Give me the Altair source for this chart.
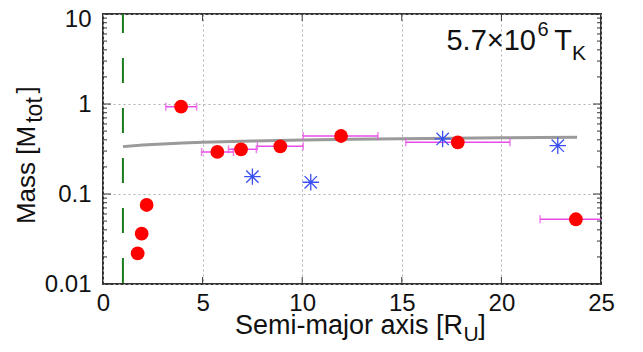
import altair as alt
import pandas as pd

# ---- data ----
circ_x = [1.74, 1.94, 2.19, 3.92, 5.74, 6.93, 8.90, 11.95, 17.81, 23.74]
circ_y = [0.0219, 0.0362, 0.0755, 0.933, 0.293, 0.314, 0.339, 0.441, 0.375, 0.0524]

err_x = [3.92, 5.74, 6.93, 8.90, 11.95, 17.81, 23.74]
err_y = [0.933, 0.293, 0.314, 0.339, 0.441, 0.375, 0.0524]
err_lo = [3.15, 4.95, 6.30, 7.75, 10.05, 15.20, 21.94]
err_hi = [4.70, 6.55, 7.70, 10.05, 13.80, 20.43, 26.00]

star_x = [7.50, 10.43, 17.05, 22.83]
star_y = [0.156, 0.135, 0.409, 0.344]

curve_x = [1.0, 2.0, 3.0, 4.0, 5.0, 7.5, 10.0, 12.5, 15.0, 17.5, 20.0, 22.0, 23.8]
curve_y = [0.336, 0.350, 0.360, 0.369, 0.376, 0.388, 0.398, 0.405, 0.410, 0.416, 0.421, 0.424, 0.426]

roche_x = [1.0]

x_ticks = [0, 5, 10, 15, 20, 25]
y_major = [0.01, 0.1, 1, 10]
y_minor = [m * d for d in [0.01, 0.1, 1] for m in range(2, 10)]

FONT = "Liberation Sans"
W, H = 498, 270

def X(field):
    return alt.X(field, type="quantitative",
                 scale=alt.Scale(domain=[0, 25], nice=False, zero=False),
                 axis=alt.Axis(values=x_ticks, format="d", title=None, grid=True,
                               labelPadding=7, labelFlush=False))

def Y(field):
    return alt.Y(field, type="quantitative",
                 scale=alt.Scale(type="log", domain=[0.01, 10], nice=False),
                 axis=alt.Axis(values=y_major, format="~g", title=None, grid=True,
                               labelPadding=12,
                               labelOffset={"condition": {"test": "datum.value >= 5", "value": 5},
                                            "value": 0}))

curve = alt.Chart(pd.DataFrame({"x": curve_x, "y": curve_y})).mark_line(
    color="#9a9a9a", strokeWidth=3).encode(x=X("x"), y=Y("y"))

roche = alt.Chart(pd.DataFrame({"x": roche_x})).mark_rule(
    color="#1b7a1b", strokeWidth=2, strokeDash=[25, 25], strokeDashOffset=6
).encode(x=X("x"), y=alt.value(0), y2=alt.value(H))

edf = pd.DataFrame({"x": err_x, "y": err_y, "lo": err_lo, "hi": err_hi})
ebar = alt.Chart(edf).mark_rule(color="#e84ce8", strokeWidth=1.5, clip=True).encode(
    x=X("lo"), x2="hi", y=Y("y"))
cap_lo = alt.Chart(edf).mark_tick(color="#e84ce8", orient="vertical", size=8,
                                  thickness=1.5, clip=True).encode(x=X("lo"), y=Y("y"))
cap_hi = alt.Chart(edf).mark_tick(color="#e84ce8", orient="vertical", size=8,
                                  thickness=1.5, clip=True).encode(x=X("hi"), y=Y("y"))

circles = alt.Chart(pd.DataFrame({"x": circ_x, "y": circ_y})).mark_circle(
    color="#ff0000", opacity=1, size=190).encode(x=X("x"), y=Y("y"))

star_path = "M-1,0L1,0M0,-1L0,1M-0.75,-0.75L0.75,0.75M-0.75,0.75L0.75,-0.75"
stars = alt.Chart(pd.DataFrame({"x": star_x, "y": star_y})).mark_point(
    shape=star_path, filled=False, color="#3a4ff0", strokeWidth=1.3, size=270, opacity=1
).encode(x=X("x"), y=Y("y"))

# inward ticks (gnuplot style), mirrored on all sides
ymaj = pd.DataFrame({"y": y_major})
ymin = pd.DataFrame({"y": y_minor})
xt = pd.DataFrame({"x": x_ticks[1:-1]})
tick_style = dict(color="#333333", strokeWidth=1)
t1 = alt.Chart(ymaj).mark_rule(**tick_style).encode(y=Y("y"), x=alt.value(0), x2=alt.value(8))
t2 = alt.Chart(ymaj).mark_rule(**tick_style).encode(y=Y("y"), x=alt.value(W), x2=alt.value(W - 8))
t3 = alt.Chart(ymin).mark_rule(**tick_style).encode(y=Y("y"), x=alt.value(0), x2=alt.value(4))
t4 = alt.Chart(ymin).mark_rule(**tick_style).encode(y=Y("y"), x=alt.value(W), x2=alt.value(W - 4))
t5 = alt.Chart(xt).mark_rule(**tick_style).encode(x=X("x"), y=alt.value(H), y2=alt.value(H - 7))
t6 = alt.Chart(xt).mark_rule(**tick_style).encode(x=X("x"), y=alt.value(0), y2=alt.value(7))

one = alt.Data(values=[{"k": 1}])

def txt(s, x, y, size, align="center", angle=0):
    kw = dict(font=FONT, fontSize=size, align=align, baseline="alphabetic", color="#111111")
    if angle:
        kw["angle"] = angle
    return alt.Chart(one).mark_text(**kw).encode(
        x=alt.value(x), y=alt.value(y), text=alt.value(s))

texts = [
    # x title
    txt("Semi-major axis [R", 360, 320, 27, align="right"),
    txt("U", 368, 327, 21),
    txt("]", 379, 320, 27),
    # y title (rotated)
    txt("Mass [M", -68, 161, 26, angle=270),
    txt("tot", -61, 96, 23, angle=270),
    txt("]", -68, 76, 26, angle=270),
    # annotation
    txt("5.7\u00d710", 433, 36, 29, align="right"),
    txt("6", 440, 22, 20),
    txt("T", 460, 36, 29),
    txt("K", 476, 46, 21),
]

chart = alt.layer(
    curve, roche, ebar, cap_lo, cap_hi, circles, stars,
    t1, t2, t3, t4, t5, t6, *texts
).properties(
    width=W, height=H, autosize="none",
    padding={"left": 95, "top": 6, "right": 30, "bottom": 60}
).configure_axis(
    labelFont=FONT, labelFontSize=24, labelColor="#111111",
    domain=False, ticks=False,
    gridColor="#b0b0b0", gridDash=[2, 3], gridWidth=1
).configure_view(stroke="#333333", strokeWidth=2)

chart.save("out.html", embed_options={"renderer": "svg", "actions": False})
